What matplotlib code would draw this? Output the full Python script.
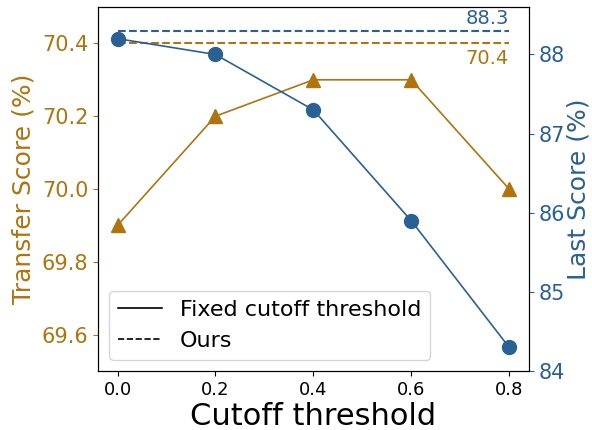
import matplotlib
matplotlib.use("Agg")
import matplotlib.pyplot as plt
from matplotlib.lines import Line2D

# --- data -----------------------------------------------------------------
thresholds = [0.0, 0.2, 0.4, 0.6, 0.8]
transfer = [69.9, 70.2, 70.3, 70.3, 70.0]
last = [88.2, 88.0, 87.3, 85.9, 84.3]
ours_transfer = 70.4
ours_last = 88.3

ORANGE = "#b0740f"
BLUE = "#2a6195"

fig = plt.figure(figsize=(5.92, 4.30), dpi=100)
ax = fig.add_axes([0.1655, 0.1372, 0.893 - 0.1655, 0.9837 - 0.1372])

ax.plot(thresholds, transfer, color=ORANGE, marker="^", ms=10, lw=1.2)
ax.plot([thresholds[0], thresholds[-1]], [ours_transfer] * 2,
        color=ORANGE, ls="--", lw=1.5)
ax.text(thresholds[-1], ours_transfer - 0.016, f"{ours_transfer}",
        color=ORANGE, fontsize=14, ha="right", va="top")
ax.set_ylim(69.5, 70.5)
ax.set_yticks([69.6, 69.8, 70.0, 70.2, 70.4])
ax.set_ylabel("Transfer Score (%)", color=ORANGE, fontsize=18)
ax.tick_params(axis="y", colors=ORANGE, labelsize=15)
ax.tick_params(axis="x", labelsize=13)
ax.set_xticks(thresholds)
ax.set_xlabel("Cutoff threshold", fontsize=22, labelpad=2)

ax2 = ax.twinx()
ax2.plot(thresholds, last, color=BLUE, marker="o", ms=10, lw=1.2)
ax2.plot([thresholds[0], thresholds[-1]], [ours_last] * 2,
         color=BLUE, ls="--", lw=1.5)
ax2.text(thresholds[-1], ours_last + 0.04, f"{ours_last}",
         color=BLUE, fontsize=14, ha="right", va="bottom")
ax2.set_ylim(84.0, 88.6)
ax2.set_yticks([84, 85, 86, 87, 88])
ax2.set_ylabel("Last Score (%)", color=BLUE, fontsize=18, labelpad=1)
ax2.tick_params(axis="y", colors=BLUE, labelsize=15)

handles = [Line2D([0], [0], color="black", lw=1.2),
           Line2D([0], [0], color="black", lw=1.2, ls="--")]
ax.legend(handles, ["Fixed cutoff threshold", "Ours"], loc="lower left",
          fontsize=16)

fig.savefig("out.png", dpi=100)
